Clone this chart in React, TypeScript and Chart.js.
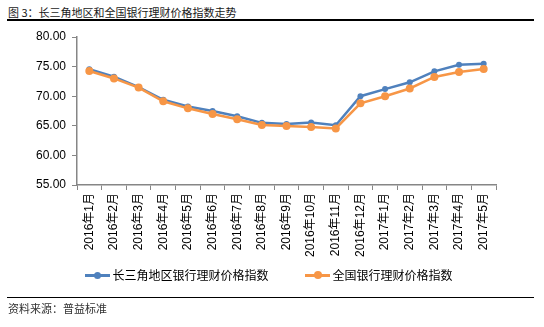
import React, { useEffect, useRef } from "react";
import { Chart, registerables } from "chart.js";

Chart.register(...registerables);

const categories = [
  "2016年1月", "2016年2月", "2016年3月", "2016年4月", "2016年5月", "2016年6月",
  "2016年7月", "2016年8月", "2016年9月", "2016年10月", "2016年11月", "2016年12月",
  "2017年1月", "2017年2月", "2017年3月", "2017年4月", "2017年5月",
];
const yrdValues = [74.55, 73.3, 71.55, 69.4, 68.25, 67.5, 66.6, 65.5, 65.3, 65.55, 65.1, 70.0, 71.2, 72.35, 74.2, 75.3, 75.5];
const nationalValues = [74.25, 73.0, 71.45, 69.15, 67.95, 67.0, 66.1, 65.15, 64.95, 64.8, 64.55, 68.8, 70.0, 71.3, 73.25, 74.1, 74.6];
const seriesNames = ["长三角地区银行理财价格指数", "全国银行理财价格指数"];
const yTickMin = 55;
const yTickMax = 80;
const yTickStep = 5;
const titleText = "图 3：长三角地区和全国银行理财价格指数走势";
const sourceText = "资料来源：普益标准";

const BLUE = "#4F81BD";
const ORANGE = "#F79646";
const AXIS = "#868686";
const FONT = '"Liberation Sans", "Noto Sans CJK SC", sans-serif';
const CJK = '"Noto Sans CJK SC", "Liberation Sans", sans-serif';

export default function App() {
  const ref = useRef<HTMLCanvasElement | null>(null);

  useEffect(() => {
    if (!ref.current) return;
    const chart = new Chart(ref.current, {
      type: "line",
      data: {
        labels: categories,
        datasets: [
          {
            label: seriesNames[0],
            data: yrdValues,
            borderColor: BLUE,
            backgroundColor: BLUE,
            borderWidth: 2.5,
            pointRadius: 3,
            pointBorderWidth: 0,
            pointBackgroundColor: BLUE,
            tension: 0,
            order: 1,
          },
          {
            label: seriesNames[1],
            data: nationalValues,
            borderColor: ORANGE,
            backgroundColor: ORANGE,
            borderWidth: 2.5,
            pointRadius: 4,
            pointBorderWidth: 0,
            pointBackgroundColor: ORANGE,
            tension: 0,
            order: 0,
          },
        ],
      },
      options: {
        responsive: false,
        animation: false,
        layout: { padding: { left: 0, top: 37, right: 48, bottom: 0 } },
        plugins: { legend: { display: false }, tooltip: { enabled: false }, title: { display: false } },
        scales: {
          x: {
            type: "category",
            offset: true,
            grid: {
              display: true,
              offset: true,
              drawOnChartArea: false,
              drawTicks: true,
              tickLength: 5,
              color: AXIS,
              lineWidth: 1,
            },
            border: { display: true, color: AXIS, width: 1.5 },
            ticks: {
              autoSkip: false,
              minRotation: 90,
              maxRotation: 90,
              padding: 3,
              color: "#000",
              font: { family: FONT, size: 12 },
            },
            afterFit: (scale: any) => {
              scale.height = 327 - 185;
            },
          },
          y: {
            min: yTickMin,
            max: yTickMax,
            grid: {
              display: true,
              drawOnChartArea: false,
              drawTicks: true,
              tickLength: 5,
              color: AXIS,
            },
            border: { display: true, color: AXIS, width: 1.5 },
            ticks: {
              stepSize: yTickStep,
              padding: 6,
              color: "#000",
              font: { family: FONT, size: 12 },
              callback: (v: any) => Number(v).toFixed(2),
            },
            afterFit: (scale: any) => {
              scale.width = 77;
            },
          },
        },
      },
    });
    return () => chart.destroy();
  }, []);

  const legendItem = (lineLeft: number, color: string, r: number, text: string) => (
    <>
      <div style={{ position: "absolute", left: lineLeft, top: 274, width: 25, height: 2.5, background: color }} />
      <div
        style={{
          position: "absolute",
          left: lineLeft + 12.5 - r,
          top: 275.25 - r,
          width: r * 2,
          height: r * 2,
          borderRadius: "50%",
          background: color,
        }}
      />
      <div
        style={{
          position: "absolute",
          left: lineLeft + 27.5,
          top: 266,
          height: 18,
          lineHeight: "18px",
          fontSize: 12,
          fontFamily: CJK,
          color: "#000",
          whiteSpace: "nowrap",
        }}
      >
        {text}
      </div>
    </>
  );

  return (
    <div style={{ position: "fixed", left: 0, top: 0, width: 544, height: 327, background: "#fff", overflow: "hidden" }}>
      <div
        style={{
          position: "absolute",
          left: 8,
          top: 4,
          fontSize: 11,
          lineHeight: "16px",
          fontFamily: CJK,
          color: "#1a1a1a",
          whiteSpace: "nowrap",
        }}
      >
        {titleText}
      </div>
      <div style={{ position: "absolute", left: 7, top: 19, width: 527, height: 2, background: "#000" }} />
      <canvas ref={ref} width={544} height={327} style={{ position: "absolute", left: 0, top: 0 }} />
      {legendItem(85, BLUE, 3.5, seriesNames[0])}
      {legendItem(305, ORANGE, 4, seriesNames[1])}
      <div style={{ position: "absolute", left: 7, top: 296.5, width: 527, height: 1.5, background: "#000" }} />
      <div
        style={{
          position: "absolute",
          left: 8,
          top: 300,
          fontSize: 11,
          lineHeight: "16px",
          fontFamily: CJK,
          color: "#333",
          whiteSpace: "nowrap",
        }}
      >
        {sourceText}
      </div>
    </div>
  );
}
